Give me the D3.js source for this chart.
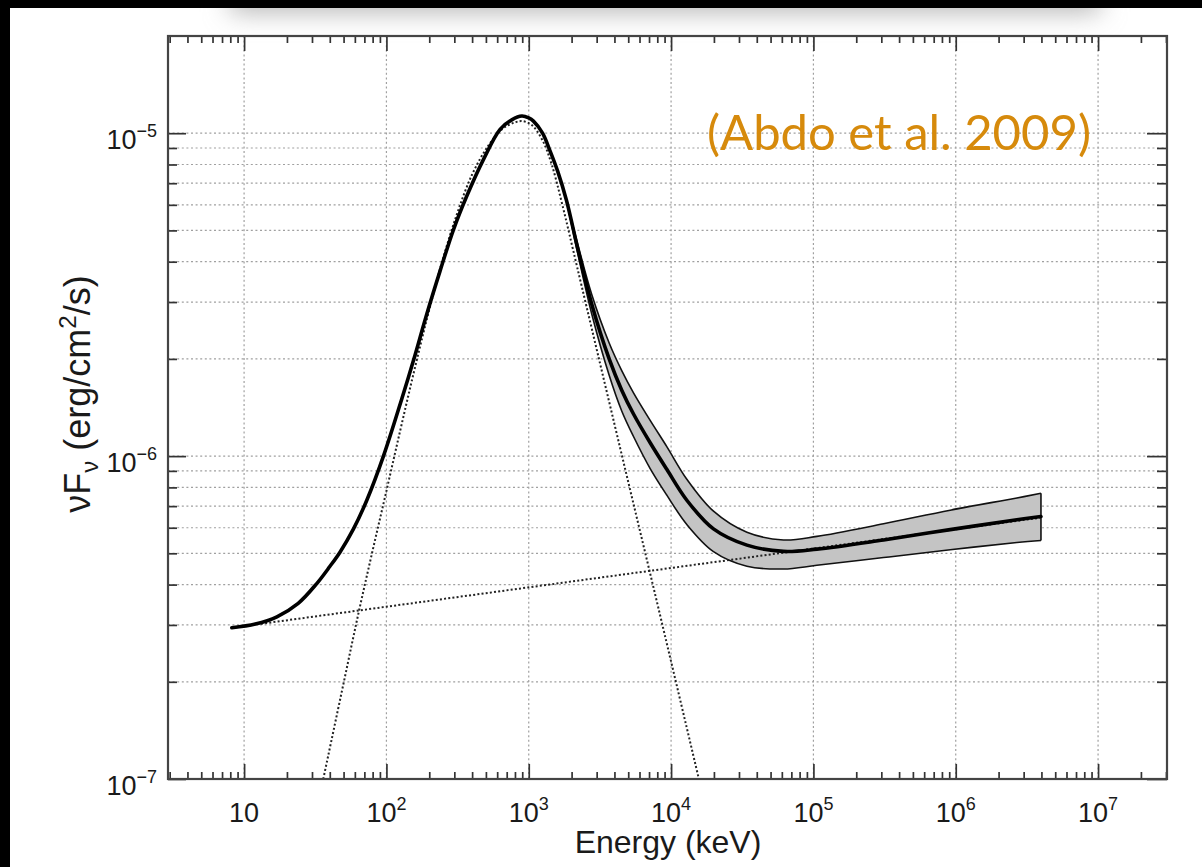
<!DOCTYPE html>
<html><head><meta charset="utf-8">
<script src="https://cdn.jsdelivr.net/npm/d3@7"></script>
<style>
html,body{margin:0;padding:0;background:#000;}
svg{display:block;}
</style></head>
<body>
<svg id="c" width="1202" height="867"></svg>
<script>
// ---------------- data ----------------
const xDomain = [2.92, 3.05e7];          // keV
const yDomain = [1e-7, 2.0e-5];          // erg/cm2/s
const xMajorTicks = [10, 1e2, 1e3, 1e4, 1e5, 1e6, 1e7];
const xTickBase = ["10", "10", "10", "10", "10", "10", "10"];
const xTickExp  = ["", "2", "3", "4", "5", "6", "7"];
const yMajorTicks = [1e-5, 1e-6, 1e-7];
const yTickExp  = ["\u22125", "\u22126", "\u22127"];
const minorMultipliers = [2, 3, 4, 5, 6, 7, 8, 9];
const xLabel = "Energy (keV)";
const citation = "(Abdo et al. 2009)";

// total model (solid line)
const totalE = [8.2, 12, 17, 24, 32.4, 40, 47.3, 58.7, 72.8, 95.3, 128, 155, 192, 238, 296, 367, 481, 629, 760, 894,
                1000, 1079, 1250, 1413, 1600, 1840, 2234, 2774, 3673, 4500, 5445, 7130, 9330, 12900, 19860, 34100,
                61640, 105800, 311000, 914000, 2.69e6, 3.97e6];
const totalF = [2.94e-7, 3.02e-7, 3.18e-7, 3.5e-7, 4.03e-7, 4.55e-7, 5.05e-7, 5.95e-7, 7.3e-7, 1.0e-6, 1.5e-6, 1.98e-6, 2.75e-6, 3.74e-6, 5.03e-6, 6.39e-6, 8.3e-6, 1.028e-5, 1.10e-5, 1.13e-5,
                1.115e-5, 1.09e-5, 1.0e-5, 8.8e-6, 7.6e-6, 6.2e-6, 4.3e-6, 2.95e-6, 2.0e-6, 1.6e-6, 1.35e-6, 1.1e-6, 9.1e-7, 7.3e-7, 5.95e-7, 5.3e-7,
                5.07e-7, 5.15e-7, 5.5e-7, 5.92e-7, 6.35e-7, 6.5e-7];

// uncertainty band (butterfly)
const bandE     = [1840, 2234, 2774, 3673, 4500, 5445, 7130, 9330, 12900, 19860, 34100, 61640, 105800, 311000, 914000, 2.69e6, 3.97e6];
const bandUpper = [6.2e-6, 4.45e-6, 3.16e-6, 2.24e-6, 1.84e-6, 1.57e-6, 1.29e-6, 1.07e-6, 8.48e-7, 6.75e-7, 5.81e-7, 5.5e-7, 5.64e-7, 6.17e-7, 6.8e-7, 7.42e-7, 7.67e-7];
const bandLower = [6.2e-6, 4.15e-6, 2.75e-6, 1.78e-6, 1.38e-6, 1.15e-6, 9.15e-7, 7.57e-7, 6.14e-7, 5.06e-7, 4.56e-7, 4.47e-7, 4.59e-7, 4.85e-7, 5.13e-7, 5.4e-7, 5.48e-7];

// Band-function component (dotted)
const bandCompE = [36, 50, 64, 80, 100, 125, 155, 195, 245, 310, 400, 520, 660, 800, 900, 1050, 1250, 1450, 1722, 2200, 4385, 8150, 17000];
const bandCompF = [1.0e-7, 1.98e-7, 3.3e-7, 5.1e-7, 7.8e-7, 1.2e-6, 1.8e-6, 2.72e-6, 3.97e-6, 5.55e-6, 7.45e-6, 9.15e-6, 1.035e-5, 1.08e-5, 1.09e-5, 1.06e-5, 9.5e-6, 8.0e-6, 6.0e-6, 3.81e-6, 1.06e-6, 3.38e-7, 8.6e-8];

// extra power-law component (dotted)
const plE = [8.2, 3.97e6];
const plF = [2.94e-7, 6.45e-7];

// ---------------- drawing ----------------
const svg = d3.select("#c");
const W = 1202, H = 867;
const L = 168, R = 1167, T = 36, B = 779;

const defs = svg.append("defs");
const blur = defs.append("filter").attr("id", "blur").attr("x", "-50%").attr("y", "-300%").attr("width", "200%").attr("height", "700%");
blur.append("feGaussianBlur").attr("stdDeviation", 13);
defs.append("clipPath").attr("id", "pageClip").append("rect").attr("x", 10).attr("y", 8).attr("width", W - 10).attr("height", H - 8);
defs.append("clipPath").attr("id", "plotClip").append("rect").attr("x", L).attr("y", T).attr("width", R - L).attr("height", B - T);

// page
svg.append("rect").attr("width", W).attr("height", H).attr("fill", "#000");
svg.append("rect").attr("x", 10).attr("y", 8).attr("width", W - 10).attr("height", H - 8).attr("fill", "#fff");
svg.append("g").attr("clip-path", "url(#pageClip)")
  .append("rect").attr("x", 230).attr("y", -16).attr("width", 870).attr("height", 28)
  .attr("fill", "#b4b4b4").attr("filter", "url(#blur)");

const x = d3.scaleLog().domain(xDomain).range([L, R]);
const y = d3.scaleLog().domain(yDomain).range([B, T]);

// minor tick values
const xMinor = [];
for (let d = 0; d <= 7; d++) for (const m of minorMultipliers) { const v = m * Math.pow(10, d); if (v > xDomain[0] && v < xDomain[1]) xMinor.push(v); }
const yMinor = [];
for (let d = -7; d <= -5; d++) for (const m of minorMultipliers) { const v = m * Math.pow(10, d); if (v > yDomain[0] && v < yDomain[1]) yMinor.push(v); }

const gridColor = "#a0a0a0";
const grid = svg.append("g");
grid.selectAll("line.gx").data(xMajorTicks).join("line")
  .attr("x1", d => x(d)).attr("x2", d => x(d)).attr("y1", T).attr("y2", B)
  .attr("stroke", gridColor).attr("stroke-width", 1.2).attr("stroke-dasharray", "2,2.6");
grid.selectAll("line.gy").data(yMajorTicks.concat(yMinor)).join("line")
  .attr("x1", L).attr("x2", R).attr("y1", d => y(d)).attr("y2", d => y(d))
  .attr("stroke", gridColor).attr("stroke-width", 1.2).attr("stroke-dasharray", "2,2.6");

// axes via d3 axis generators (ticks inward)
function styleAxis(g) {
  g.select(".domain").remove();
  g.selectAll("line").attr("stroke", "#333").attr("stroke-width", 1.7);
  g.selectAll("text").remove();
}
svg.append("g").attr("transform", `translate(0,${B})`).call(d3.axisBottom(x).tickValues(xMajorTicks).tickSize(-15).tickFormat("")).call(styleAxis);
svg.append("g").attr("transform", `translate(0,${B})`).call(d3.axisBottom(x).tickValues(xMinor).tickSize(-7).tickFormat("")).call(styleAxis);
svg.append("g").attr("transform", `translate(0,${T})`).call(d3.axisTop(x).tickValues(xMajorTicks).tickSize(-15).tickFormat("")).call(styleAxis);
svg.append("g").attr("transform", `translate(0,${T})`).call(d3.axisTop(x).tickValues(xMinor).tickSize(-7).tickFormat("")).call(styleAxis);
svg.append("g").attr("transform", `translate(${L},0)`).call(d3.axisLeft(y).tickValues(yMajorTicks).tickSize(-18).tickFormat("")).call(styleAxis);
svg.append("g").attr("transform", `translate(${L},0)`).call(d3.axisLeft(y).tickValues(yMinor).tickSize(-9).tickFormat("")).call(styleAxis);
svg.append("g").attr("transform", `translate(${R},0)`).call(d3.axisRight(y).tickValues(yMajorTicks).tickSize(-20).tickFormat("")).call(styleAxis);
svg.append("g").attr("transform", `translate(${R},0)`).call(d3.axisRight(y).tickValues(yMinor).tickSize(-10).tickFormat("")).call(styleAxis);

// data layers
const plot = svg.append("g").attr("clip-path", "url(#plotClip)");
const smooth = d3.curveCatmullRom.alpha(0.5);
const band = bandE.map((e, i) => ({ e, lo: bandLower[i], hi: bandUpper[i] }));
plot.append("path").datum(band)
  .attr("d", d3.area().x(d => x(d.e)).y0(d => y(d.lo)).y1(d => y(d.hi)).curve(smooth))
  .attr("fill", "#c4c4c4").attr("stroke", "none");
const edge = d3.line().curve(smooth);
plot.append("path").attr("d", edge(band.map(d => [x(d.e), y(d.hi)]))).attr("fill", "none").attr("stroke", "#111").attr("stroke-width", 1.6);
plot.append("path").attr("d", edge(band.map(d => [x(d.e), y(d.lo)]))).attr("fill", "none").attr("stroke", "#111").attr("stroke-width", 1.6);
const last = band[band.length - 1];
plot.append("line").attr("x1", x(last.e)).attr("x2", x(last.e)).attr("y1", y(last.lo)).attr("y2", y(last.hi)).attr("stroke", "#111").attr("stroke-width", 1.6);

const dotted = d3.line().curve(smooth);
plot.append("path").attr("d", dotted(bandCompE.map((e, i) => [x(e), y(bandCompF[i])])))
  .attr("fill", "none").attr("stroke", "#222").attr("stroke-width", 2).attr("stroke-dasharray", "2,2.2");
plot.append("path").attr("d", dotted(plE.map((e, i) => [x(e), y(plF[i])])))
  .attr("fill", "none").attr("stroke", "#222").attr("stroke-width", 2).attr("stroke-dasharray", "2,2.2");

plot.append("path").attr("d", d3.line().curve(smooth)(totalE.map((e, i) => [x(e), y(totalF[i])])))
  .attr("fill", "none").attr("stroke", "#000").attr("stroke-width", 3.6).attr("stroke-linejoin", "round").attr("stroke-linecap", "round");

// frame
svg.append("rect").attr("x", L).attr("y", T).attr("width", R - L).attr("height", B - T)
  .attr("fill", "none").attr("stroke", "#444").attr("stroke-width", 2.2);

// tick labels
const font = "'Liberation Sans', Arial, Helvetica, sans-serif";
const xl = svg.append("g").attr("font-family", font).attr("fill", "#1a1a1a");
xMajorTicks.forEach((v, i) => {
  const t = xl.append("text").attr("x", x(v)).attr("y", 822).attr("text-anchor", "middle").attr("font-size", 27);
  t.append("tspan").text(xTickBase[i]);
  if (xTickExp[i]) t.append("tspan").attr("font-size", 18).attr("dy", -12).text(xTickExp[i]);
});
yMajorTicks.forEach((v, i) => {
  const t = xl.append("text").attr("x", 157).attr("y", y(v) + 16).attr("text-anchor", "end").attr("font-size", 27);
  t.append("tspan").text("10");
  t.append("tspan").attr("font-size", 18).attr("dy", -12).text(yTickExp[i]);
});

// axis titles
svg.append("text").attr("x", 668).attr("y", 853).attr("text-anchor", "middle")
  .attr("font-family", font).attr("font-size", 32).attr("fill", "#1a1a1a").text(xLabel);
const yt = svg.append("text").attr("transform", "translate(90,394) rotate(-90)").attr("text-anchor", "middle")
  .attr("font-family", font).attr("font-size", 36).attr("fill", "#1a1a1a");
yt.append("tspan").text("\u03bdF");
yt.append("tspan").attr("font-size", 24).attr("dy", 8).text("\u03bd");
yt.append("tspan").attr("dy", -8).text(" (erg/cm");
yt.append("tspan").attr("font-size", 24).attr("dy", -14).text("2");
yt.append("tspan").attr("dy", 14).text("/s)");

// citation
svg.append("text").attr("x", 707).attr("y", 150).attr("font-family", "Lato, 'Open Sans', sans-serif")
  .attr("font-size", 49).attr("fill", "#D68A0C").text(citation);
</script>
</body></html>
